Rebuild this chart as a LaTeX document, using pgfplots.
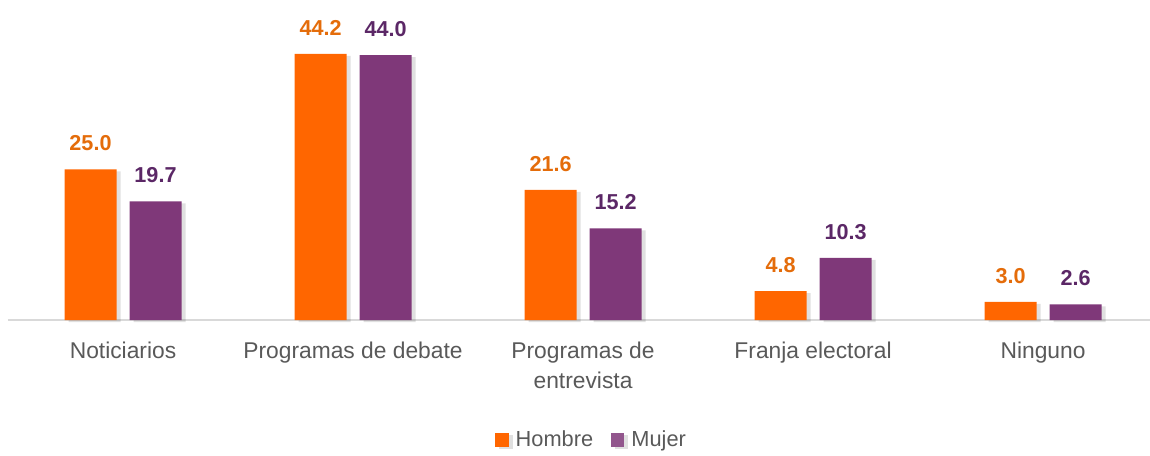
\documentclass[border=0pt]{standalone}
\usepackage{pgfplots}
\pgfplotsset{compat=1.18}
\usepackage{fontspec}
\setmainfont{Liberation Sans}
\definecolor{barO}{HTML}{FF6600}
\definecolor{barP}{HTML}{7F3879}
\definecolor{labO}{HTML}{E46C0A}
\definecolor{labP}{HTML}{5B2766}
\definecolor{txt}{HTML}{595959}
\definecolor{axl}{HTML}{D9D9D9}
\begin{document}
\begin{tikzpicture}
\useasboundingbox (0,0) rectangle (575pt,227.5pt);
\begin{axis}[
  at={(4pt,67.5pt)}, anchor=south west,
  scale only axis, width=571pt, height=150pt,
  xmin=-0.5, xmax=4.465, ymin=0, ymax=49.83,
  clip=false,
  ybar=6.5pt, bar width=26pt,
  axis x line*=bottom, axis y line=none,
  x axis line style={draw=axl, line width=1pt, -},
  xtick={0,1,2,3,4}, major tick length=0pt,
  xticklabels={Noticiarios, Programas de debate, {Programas de\\entrevista}, Franja electoral, Ninguno},
  xticklabel style={font=\fontsize{11.4}{15}\selectfont, text=txt, align=center, anchor=north, inner sep=0pt, yshift=-11pt},
  nodes near coords={\pgfmathprintnumber[fixed,fixed zerofill,precision=1,assume math mode=true]{\pgfplotspointmeta}},
  nodes near coords style={font=\fontsize{10.8}{12}\selectfont\bfseries, anchor=south, inner sep=0pt, yshift=9pt},
  legend style={at={(0.512,-0.4)}, anchor=center, draw=none, fill=none, font=\fontsize{10.9}{12}\selectfont, text=txt, legend columns=2,
    /tikz/every odd column/.append style={column sep=1.5pt},
    /tikz/every even column/.append style={column sep=7pt},
    nodes={inner xsep=2pt}},
]
\addplot[fill=barO, draw=none,
  preaction={fill=black, fill opacity=0.12, transform canvas={xshift=2pt,yshift=-1pt}},
  nodes near coords style={text=labO},
  legend image code/.code={\fill[barO] (0pt,-3.3pt) rectangle (6.6pt,3.3pt);}]
  coordinates {(0,25.0) (1,44.2) (2,21.6) (3,4.8) (4,3.0)};
\addplot[fill=barP, draw=none,
  preaction={fill=black, fill opacity=0.12, transform canvas={xshift=2pt,yshift=-1pt}},
  nodes near coords style={text=labP},
  legend image code/.code={\fill[barP!85!white] (0pt,-3.3pt) rectangle (6.6pt,3.3pt);}]
  coordinates {(0,19.7) (1,44.0) (2,15.2) (3,10.3) (4,2.6)};
\legend{Hombre, Mujer}
\end{axis}
\end{tikzpicture}
\end{document}
